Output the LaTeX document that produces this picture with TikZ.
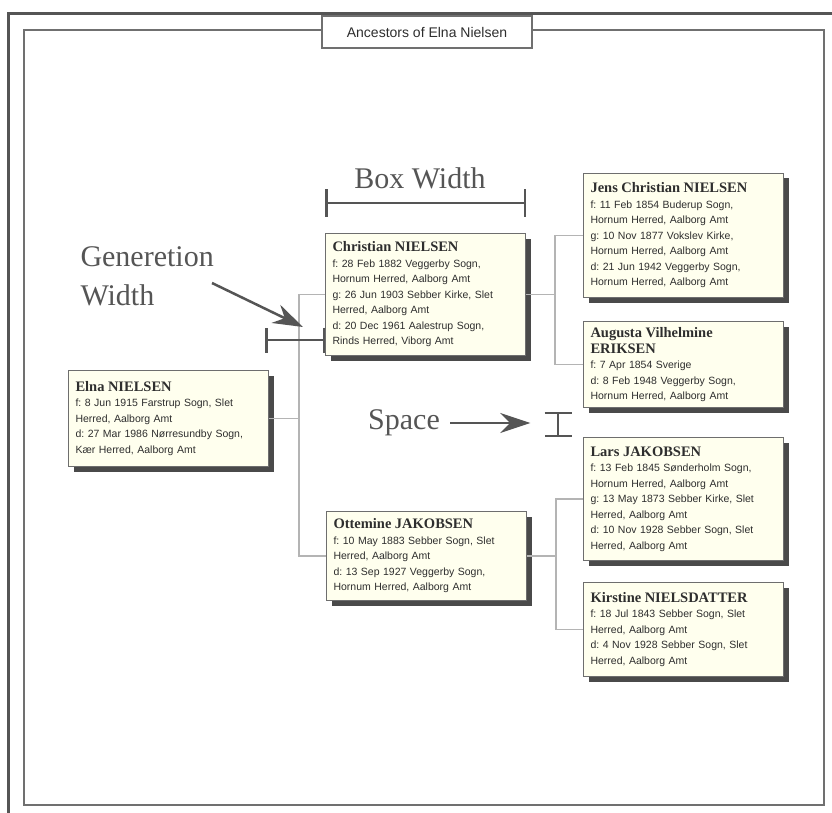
\documentclass[tikz,border=0pt]{standalone}
\usepackage{fontspec}
\setmainfont{Liberation Serif}
\setsansfont{Liberation Sans}
\usetikzlibrary{arrows.meta, shadows}
\definecolor{cframe}{HTML}{555555}
\definecolor{cinner}{HTML}{707070}
\definecolor{cbox}{HTML}{FFFFEE}
\definecolor{cedge}{HTML}{6E6E6E}
\definecolor{cshadow}{HTML}{4A4A4A}
\definecolor{clink}{HTML}{B4B4B4}
\definecolor{ctext}{HTML}{2E2E2E}
\definecolor{canno}{HTML}{555555}
\newcommand{\pname}[1]{{\rmfamily\bfseries\fontsize{14.5}{15.5}\selectfont #1}\\}
\tikzset{
  every picture/.style={line width=1pt},
  person/.style={draw=cedge, fill=cbox, anchor=north west, text width=186pt, inner xsep=7pt, inner ysep=6pt,
    align=left, text=ctext, font=\sffamily\fontsize{10.5}{15.5}\selectfont\frenchspacing,
    drop shadow={shadow xshift=5pt, shadow yshift=-5pt, fill=cshadow, opacity=1}},
  link/.style={draw=clink, line width=1.3pt},
  anno/.style={text=canno, font=\rmfamily\fontsize{30}{39}\selectfont, inner sep=0pt},
  measure/.style={draw=canno, line width=2.5pt, arrows={Bar[width=27pt]-Bar[width=27pt]}},
  pointer/.style={draw=canno, line width=2.5pt, arrows={-Stealth[length=30pt, width=20pt]}},
}
\begin{document}
\begin{tikzpicture}[x=1pt, y=-1pt]
  \useasboundingbox (0,0) rectangle (832,813);
  % window frame
  \draw[cframe, line width=3pt] (8,813) -- (8,14) -- (832,14);
  \draw[cinner, line width=1.5pt] (24,30) rectangle (824,805);
  \node[draw=cinner, fill=white, line width=1.2pt, minimum width=210pt, minimum height=32pt, text=ctext,
    font=\sffamily\fontsize{14}{16}\selectfont] (title) at (427,32) {Ancestors of Elna Nielsen};

  % people
  \node[person, minimum height=96pt] (elna) at (68,370)
    {\pname{Elna NIELSEN}f: 8 Jun 1915 Farstrup Sogn, Slet\\Herred, Aalborg Amt\\d: 27 Mar 1986 Nørresundby Sogn,\\Kær Herred, Aalborg Amt};
  \node[person, minimum height=122pt] (christian) at (325,233)
    {\pname{Christian NIELSEN}f: 28 Feb 1882 Veggerby Sogn,\\Hornum Herred, Aalborg Amt\\g: 26 Jun 1903 Sebber Kirke, Slet\\Herred, Aalborg Amt\\d: 20 Dec 1961 Aalestrup Sogn,\\Rinds Herred, Viborg Amt};
  \node[person, minimum height=89pt] (ottemine) at (326,511)
    {\pname{Ottemine JAKOBSEN}f: 10 May 1883 Sebber Sogn, Slet\\Herred, Aalborg Amt\\d: 13 Sep 1927 Veggerby Sogn,\\Hornum Herred, Aalborg Amt};
  \node[person, minimum height=124pt] (jens) at (583,173)
    {\pname{Jens Christian NIELSEN}f: 11 Feb 1854 Buderup Sogn,\\Hornum Herred, Aalborg Amt\\g: 10 Nov 1877 Vokslev Kirke,\\Hornum Herred, Aalborg Amt\\d: 21 Jun 1942 Veggerby Sogn,\\Hornum Herred, Aalborg Amt};
  \node[person, minimum height=86pt] (augusta) at (583,321)
    {\pname{Augusta Vilhelmine}\pname{ERIKSEN}f: 7 Apr 1854 Sverige\\d: 8 Feb 1948 Veggerby Sogn,\\Hornum Herred, Aalborg Amt};
  \node[person, minimum height=123pt] (lars) at (583,437)
    {\pname{Lars JAKOBSEN}f: 13 Feb 1845 Sønderholm Sogn,\\Hornum Herred, Aalborg Amt\\g: 13 May 1873 Sebber Kirke, Slet\\Herred, Aalborg Amt\\d: 10 Nov 1928 Sebber Sogn, Slet\\Herred, Aalborg Amt};
  \node[person, minimum height=94pt] (kirstine) at (583,582)
    {\pname{Kirstine NIELSDATTER}f: 18 Jul 1843 Sebber Sogn, Slet\\Herred, Aalborg Amt\\d: 4 Nov 1928 Sebber Sogn, Slet\\Herred, Aalborg Amt};

  % tree lines
  \coordinate (fork1) at ([xshift=30pt] elna.east);
  \coordinate (fork2) at ([xshift=29pt] christian.east);
  \coordinate (fork3) at ([xshift=29pt] ottemine.east);
  \draw[link] (elna.east) -- (fork1);
  \draw[link] (christian.west) -| (fork1) |- (ottemine.west);
  \draw[link] (christian.east) -- (fork2);
  \draw[link] (jens.west) -| (fork2) |- (augusta.west);
  \draw[link] (ottemine.east) -- (fork3);
  \draw[link] (lars.west) -| (fork3) |- (kirstine.west);

  % measures
  \node[anno] (boxw) at (420,178) {Box Width};
  \coordinate (bw1) at ([yshift=30pt] christian.north west);
  \coordinate (bw2) at ([yshift=30pt] christian.north east);
  \draw[measure] (bw1) -- (bw2);

  \node[anno, align=left, anchor=north west] (genw) at (80,246) {Generetion\\Width};
  \coordinate (gentail) at (212,283);
  \coordinate (genhead) at (303,327);
  \draw[pointer] (gentail) -- (genhead);
  \coordinate (gw1) at (265,340);
  \draw[measure, arrows={Bar[width=25pt]-Bar[width=25pt]}] (gw1) -- (gw1 -| christian.west);

  \node[anno] (space) at (404,423) {Space};
  \coordinate (sptip) at ([xshift=90pt] space.east);
  \draw[pointer] ([xshift=10pt] space.east) -- (sptip);
  \coordinate (gap1) at (558,412);
  \draw[measure, line width=2pt] (gap1) -- (gap1 |- lars.north);
\end{tikzpicture}
\end{document}
